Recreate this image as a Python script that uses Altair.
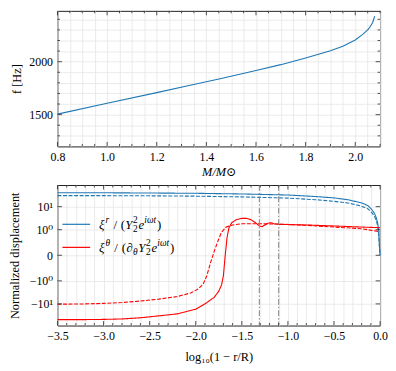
import altair as alt
import numpy as np
import pandas as pd

BLUE = "#1f77b4"
RED = "#ff0000"
GREY = "#808080"
FRAME = "#222222"
FONT = "'Liberation Serif', 'DejaVu Serif', serif"

# ---------------- top panel: f(M)
mass = [0.80, 1.00, 1.20, 1.33, 1.46, 1.60, 1.70, 1.80, 1.90, 1.95, 2.00, 2.03, 2.05, 2.06, 2.07, 2.075, 2.078]
freq = [1505, 1607, 1708, 1775, 1842, 1917, 1972, 2035, 2103, 2145, 2205, 2258, 2300, 2330, 2370, 2405, 2430]
top_x_major = [0.8, 1.0, 1.2, 1.4, 1.6, 1.8, 2.0]
top_y_major = [1500, 2000]

# ---------------- bottom panel: displacement profiles
x_blue = [-3.5, -3.0, -2.5, -2.0, -1.5, -1.0, -0.7, -0.5, -0.35, -0.2, -0.13, -0.09, -0.06, -0.04, -0.025, -0.015, -0.007, 0.0]
xi_r_solid = [40, 40, 39, 38, 35.5, 32, 27.5, 24, 20, 14.5, 11, 7.5, 5, 3.2, 1.8, 1.0, 0.4, 0.0]
xi_r_dashed = [30, 30, 29.5, 28.5, 26.5, 23.5, 20, 17, 14.5, 10.5, 8, 5.5, 3.7, 2.4, 1.4, 0.8, 0.3, 0.0]

x_red_solid = [-3.5, -3.2, -3.0, -2.8, -2.6, -2.4, -2.2, -2.0, -1.9, -1.8, -1.75, -1.72, -1.70, -1.68,
               -1.66, -1.64, -1.61, -1.56, -1.50, -1.45, -1.40, -1.35, -1.31, -1.28, -1.25, -1.21,
               -1.18, -1.15, -1.10, -0.8, -0.5, -0.2, 0.0]
xi_t_solid = [-48, -48, -47, -45, -40, -33, -27, -17, -10, -5.2, -2.8, -1.5, -0.8, 0.0,
              0.7, 1.2, 2.0, 2.7, 3.1, 3.1, 2.7, 2.0, 1.45, 1.35, 1.6, 1.95,
              2.0, 1.8, 1.7, 1.6, 1.45, 1.3, 1.22]

x_red_dashed = [-3.5, -3.2, -3.0, -2.8, -2.6, -2.4, -2.2, -2.05, -1.97, -1.92, -1.88, -1.84, -1.80,
                -1.76, -1.72, -1.67, -1.60, -1.50, -1.30, -1.10, -0.8, -0.5, -0.2, 0.0]
xi_t_dashed = [-10.3, -10, -9.5, -8.7, -7.5, -6.2, -4.8, -3.3, -2.2, -1.4, -0.8, -0.3, 0.15,
               0.55, 0.9, 1.3, 1.6, 1.8, 1.8, 1.75, 1.55, 1.3, 1.1, 0.92]

vlines = [-1.31, -1.10]
bot_x_major = [-3.5, -3.0, -2.5, -2.0, -1.5, -1.0, -0.5, 0.0]
bot_y_ticks = [-10, -1, 0, 1, 10]
bot_y_labels = ["\u221210\u00b9", "\u221210\u2070", "0", "10\u2070", "10\u00b9"]

# legend label pieces: (text, role, style)
legend_entries = [
    [("\u03be", "b", "italic"), ("r", "sup", "italic"), ("/", "gap", "normal"), ("(", "b", "normal"),
     ("Y", "b", "italic"), ("2", "subsup", "normal"), ("e", "b", "italic"), ("i\u03c9t", "sup", "italic"),
     (")", "b", "normal")],
    [("\u03be", "b", "italic"), ("\u03b8", "sup", "italic"), ("/", "gap", "normal"), ("(", "b", "normal"),
     ("\u2202", "b", "normal"), ("\u03b8", "sub", "italic"), ("Y", "b", "italic"), ("2", "subsup", "normal"),
     ("e", "b", "italic"), ("i\u03c9t", "sup", "italic"), (")", "b", "normal")],
]
legend_colors = [BLUE, RED]

# ---------------- helpers
LS = 1.0 / (1.0 - 1.0 / 10.0)  # matplotlib symlog (linthresh=1, linscale=1)


def symlog(v):
    v = np.asarray(v, float)
    a = np.abs(v)
    return np.sign(v) * np.where(a <= 1, a * LS, LS + np.log10(np.maximum(a, 1e-12)))


W = 326
H1 = 137
H2 = 142


def edge_ticks(xvals, yvals, xscale, yscale, xaxis, yaxis, H, length):
    layers = []
    if xvals:
        d = pd.DataFrame({"tv": xvals})
        for y0, y1 in [(H, H - length), (0, length)]:
            layers.append(alt.Chart(d).mark_rule(color=FRAME, strokeWidth=0.8).encode(
                x=alt.X("tv:Q", scale=xscale, axis=xaxis), y=alt.value(y0), y2=alt.value(y1)))
    if yvals:
        d = pd.DataFrame({"tv": yvals})
        for x0, x1 in [(0, length), (W, W - length)]:
            layers.append(alt.Chart(d).mark_rule(color=FRAME, strokeWidth=0.8).encode(
                y=alt.Y("tv:Q", scale=yscale, axis=yaxis), x=alt.value(x0), x2=alt.value(x1)))
    return layers


# ---------------- top panel
xs_top = alt.Scale(domain=[0.8, 2.1], nice=False, zero=False)
ys_top = alt.Scale(domain=[1200, 2480], nice=False, zero=False)
top_x_minor = [round(v, 2) for v in np.arange(0.8, 2.1001, 0.05)]
top_y_minor = list(range(1300, 2401, 100))

ax_top_x = alt.Axis(
    values=top_x_minor, grid=True, labelOverlap=False, labelFlush=False,
    labelExpr="abs(datum.value*5 - round(datum.value*5)) < 0.001 && datum.value < 2.05 ? format(datum.value, '.1f') : ''",
    title="M/M\u2299", titleFontStyle="italic", titlePadding=3)
ax_top_y = alt.Axis(
    values=top_y_minor, grid=True, labelOverlap=False, format="d",
    labelExpr="datum.value % 500 == 0 ? datum.label : ''",
    title="f [Hz]", titleX=-41, titleY=H1 / 2, titleBaseline="middle")

top_df = pd.DataFrame({"M": mass, "f": freq})
top_line = alt.Chart(top_df).mark_line(color=BLUE, strokeWidth=1.1).encode(
    x=alt.X("M:Q", scale=xs_top, axis=ax_top_x),
    y=alt.Y("f:Q", scale=ys_top, axis=ax_top_y),
)
top_minor_x = [v for v in top_x_minor if all(abs(v - m) > 1e-6 for m in top_x_major)]
top_minor_y = [v for v in top_y_minor if v not in top_y_major]
top = alt.layer(
    top_line,
    *edge_ticks(top_x_major, top_y_major, xs_top, ys_top, ax_top_x, ax_top_y, H1, 4.5),
    *edge_ticks(top_minor_x, top_minor_y, xs_top, ys_top, ax_top_x, ax_top_y, H1, 2.5),
).properties(width=W, height=H1)

# ---------------- bottom panel
xs_bot = alt.Scale(domain=[-3.5, 0.0], nice=False, zero=False)
ys_bot = alt.Scale(domain=[-3.05, 3.05], nice=False, zero=False)
bot_x_minor = [round(v, 2) for v in np.arange(-3.5, 0.0001, 0.1)]
ytick_pos = [round(float(p), 4) for p in symlog(bot_y_ticks)]

ylab_expr = "''"
for p, t in reversed(list(zip(ytick_pos, bot_y_labels))):
    ylab_expr = f"abs(datum.value - ({p})) < 0.01 ? '{t}' : " + ylab_expr

ax_bot_x = alt.Axis(
    values=bot_x_minor, grid=True, labelOverlap=False, labelFlush=False,
    labelExpr="abs(datum.value*2 - round(datum.value*2)) < 0.001 ? replace(format(datum.value, '.1f'), '-', '\u2212') : ''",
    title="log\u2081\u2080(1 \u2212 r/R)", titlePadding=9)
ax_bot_y = alt.Axis(
    values=ytick_pos, grid=True, labelOverlap=False, labelExpr=ylab_expr,
    title="Normalized displacement", titleX=-43, titleY=H2 / 2, titleBaseline="middle")

frames = []
for comp, kind, xs, vs in [("r", "solid", x_blue, xi_r_solid), ("r", "dashed", x_blue, xi_r_dashed),
                           ("theta", "solid", x_red_solid, xi_t_solid), ("theta", "dashed", x_red_dashed, xi_t_dashed)]:
    frames.append(pd.DataFrame({"x": xs, "v": vs, "t": symlog(vs), "comp": comp, "kind": kind}))
bot_df = pd.concat(frames, ignore_index=True)

bot_lines = alt.Chart(bot_df).mark_line(strokeWidth=1.1).encode(
    x=alt.X("x:Q", scale=xs_bot, axis=ax_bot_x),
    y=alt.Y("t:Q", scale=ys_bot, axis=ax_bot_y),
    color=alt.Color("comp:N", scale=alt.Scale(domain=["r", "theta"], range=[BLUE, RED]), legend=None),
    strokeDash=alt.StrokeDash("kind:N", scale=alt.Scale(domain=["solid", "dashed"], range=[[1, 0], [4, 1.6]]), legend=None),
)

vl = alt.Chart(pd.DataFrame({"xv": vlines})).mark_rule(
    color=GREY, strokeWidth=1, strokeDash=[6, 2, 1.5, 2]).encode(x=alt.X("xv:Q", scale=xs_bot, axis=ax_bot_x))

# legend (manual, for math-like labels)
WEM = {"\u03be": 0.5, "r": 0.42, "/": 0.3, "(": 0.36, ")": 0.36, "Y": 0.6, "2": 0.52,
       "e": 0.46, "i": 0.3, "\u03c9": 0.68, "t": 0.3, "\u03b8": 0.52, "\u2202": 0.52}
BASE = 13
SCRIPT = 9.5


def width(txt, size):
    return sum(WEM.get(c, 0.5) for c in txt) * size


dummy = pd.DataFrame({"a": [0]})
legend_layers = []
row_y = [39.7, 63.0]
for entry, col, cy in zip(legend_entries, legend_colors, row_y):
    legend_layers.append(alt.Chart(dummy).mark_rule(color=col, strokeWidth=1.2).encode(
        x=alt.value(5), x2=alt.value(33), y=alt.value(cy)))
    base_y = cy + 4.4
    cx = 42.0
    for txt, role, style in entry:
        if role == "b":
            pieces = [(txt, BASE, base_y)]
            adv = width(txt, BASE)
        elif role == "gap":
            cx += 3.5
            pieces = [(txt, BASE, base_y)]
            adv = width(txt, BASE) + 3.5
        elif role == "sup":
            pieces = [(txt, SCRIPT, base_y - 6)]
            adv = width(txt, SCRIPT) + 0.5
        elif role == "sub":
            pieces = [(txt, SCRIPT, base_y + 3.5)]
            adv = width(txt, SCRIPT) + 0.5
        else:
            pieces = [(txt, SCRIPT, base_y - 6), (txt, SCRIPT, base_y + 3.5)]
            adv = width(txt, SCRIPT) + 0.5
        for t, sz, yy in pieces:
            legend_layers.append(alt.Chart(dummy).mark_text(
                text=t, font=FONT, fontSize=sz, fontStyle=style, align="left",
                baseline="alphabetic", color="black").encode(x=alt.value(cx), y=alt.value(yy)))
        cx += adv

bot_minor_x = [v for v in bot_x_minor if all(abs(v - m) > 1e-6 for m in bot_x_major)]
bottom = alt.layer(
    bot_lines, vl,
    *edge_ticks(bot_x_major, ytick_pos, xs_bot, ys_bot, ax_bot_x, ax_bot_y, H2, 4.5),
    *edge_ticks(bot_minor_x, [], xs_bot, ys_bot, ax_bot_x, ax_bot_y, H2, 2.5),
    *legend_layers,
).properties(width=W, height=H2)

chart = alt.vconcat(top, bottom, spacing=6).properties(
    padding={"left": 0, "top": 0, "right": 0, "bottom": 0}
).configure(font=FONT).configure_axis(
    labelFont=FONT, titleFont=FONT, labelFontSize=12, titleFontSize=12.5, titleFontWeight="normal",
    labelColor="black", titleColor="black", gridColor="#e6e6e6", gridWidth=0.8,
    ticks=False, domain=False, labelPadding=5,
).configure_view(stroke=FRAME, strokeWidth=1)

chart.save("out.html", embed_options={"renderer": "svg", "actions": False})
